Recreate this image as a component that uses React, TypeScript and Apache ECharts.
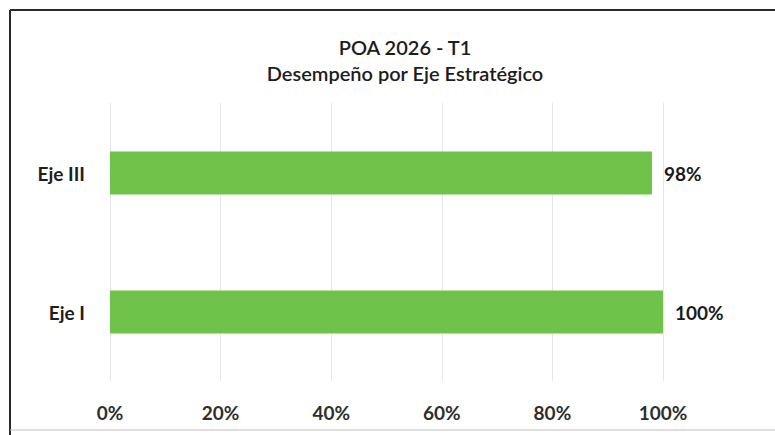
import React, { useEffect, useRef } from "react";
import * as echarts from "echarts";

const categories: string[] = ["Eje I", "Eje III"];
const values: number[] = [100, 98];
const xTicks = { min: 0, max: 100, interval: 20 };
const titleLines: string[] = ["POA 2026 - T1", "Desempeño por Eje Estratégico"];

const FONT = "Lato, 'Noto Sans', sans-serif";

export default function App() {
  const ref = useRef<HTMLDivElement>(null);
  useEffect(() => {
    document.body.style.margin = "0";
    if (!ref.current) return;
    const chart = echarts.init(ref.current, undefined, { renderer: "svg" });
    chart.setOption({
      animation: false,
      backgroundColor: "#ffffff",
      title: {
        text: titleLines.join("\n"),
        left: 400,
        top: 29,
        textAlign: "center",
        textStyle: {
          fontFamily: FONT,
          fontSize: 20,
          fontWeight: 600,
          color: "#1c1c1c",
          lineHeight: 26,
        },
      },
      graphic: [
        {
          type: "line",
          shape: { x1: 10, y1: 10, x2: 775, y2: 10 },
          style: { stroke: "#2a2a2a", lineWidth: 2 },
          silent: true,
        },
        {
          type: "line",
          shape: { x1: 10, y1: 10, x2: 10, y2: 435 },
          style: { stroke: "#2a2a2a", lineWidth: 2 },
          silent: true,
        },
        {
          type: "line",
          shape: { x1: 10, y1: 430, x2: 775, y2: 430 },
          style: { stroke: "#bdbdbd", lineWidth: 1 },
          silent: true,
        },
      ],
      grid: { left: 110, right: 112, top: 103.5, bottom: 53.5, containLabel: false },
      xAxis: {
        type: "value",
        min: xTicks.min,
        max: xTicks.max,
        interval: xTicks.interval,
        axisLine: { show: false },
        axisTick: { show: false },
        splitLine: { show: true, lineStyle: { type: "dotted", color: "#cfcfcf", width: 1 } },
        axisLabel: {
          formatter: "{value}%",
          margin: 21,
          fontFamily: FONT,
          fontSize: 19,
          fontWeight: "bold",
          color: "#2e2e2e",
        },
      },
      yAxis: {
        type: "category",
        data: categories,
        axisLine: { show: false },
        axisTick: { show: false },
        splitLine: { show: false },
        axisLabel: {
          margin: 25,
          fontFamily: FONT,
          fontSize: 19,
          fontWeight: "bold",
          color: "#1e1e1e",
        },
      },
      series: [
        {
          type: "bar",
          data: values,
          barWidth: 43,
          itemStyle: { color: "#6fc24a" },
          label: {
            show: true,
            position: "right",
            distance: 12,
            formatter: "{c}%",
            fontFamily: FONT,
            fontSize: 19,
            fontWeight: "bold",
            color: "#1a1a1a",
          },
        },
      ],
    });
    return () => chart.dispose();
  }, []);
  return <div ref={ref} style={{ width: 775, height: 435 }} />;
}
